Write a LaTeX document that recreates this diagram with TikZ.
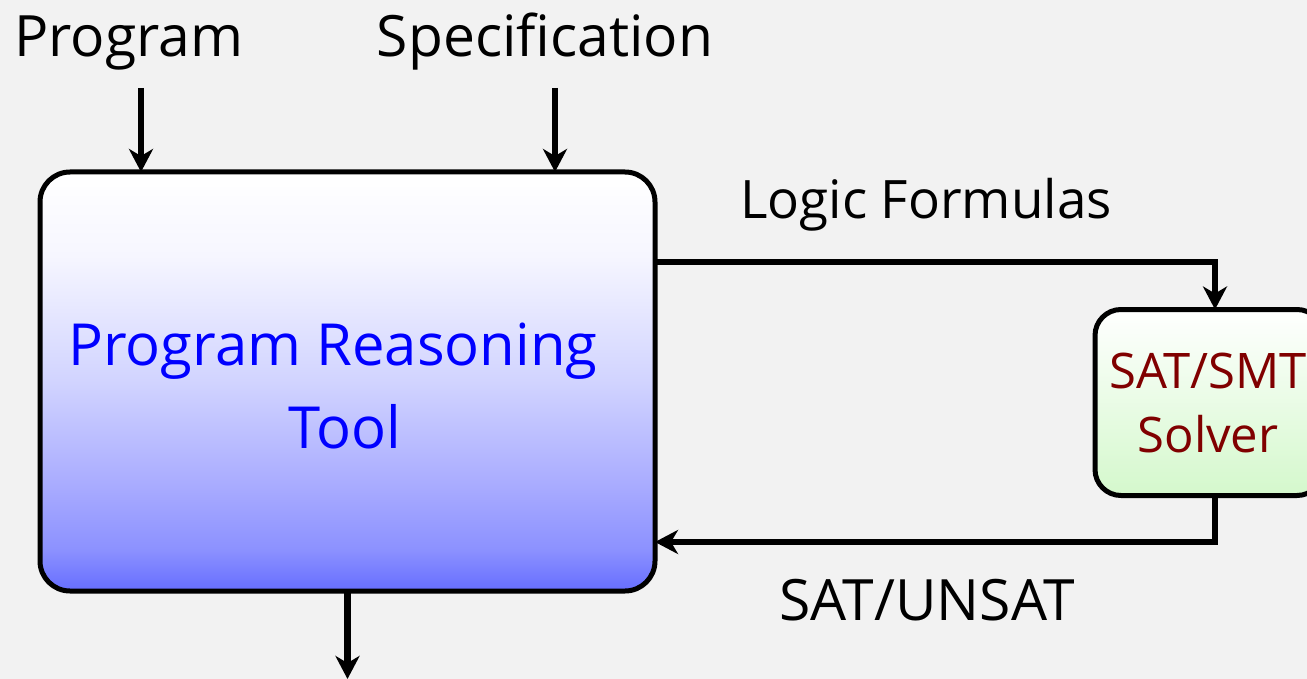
\documentclass[tikz,border=0pt]{standalone}
\usepackage{fontspec}
\setmainfont{Open Sans}
\usetikzlibrary{arrows.meta,calc}

\definecolor{bg}{HTML}{F2F2F2}
\definecolor{toolblue}{RGB}{0,0,255}
\definecolor{solverred}{RGB}{128,0,0}
\definecolor{solvergreen}{RGB}{212,248,204}

% top-to-bottom fill of the reasoning tool box (0bp = bottom)
\pgfdeclareverticalshading{toolfill}{100bp}{%
  rgb(0bp)=(0.40,0.43,1);
  rgb(25bp)=(0.40,0.43,1);
  rgb(30bp)=(0.55,0.57,1);
  rgb(37.5bp)=(0.66,0.67,1);
  rgb(50bp)=(0.82,0.83,1);
  rgb(65bp)=(0.965,0.965,1);
  rgb(75bp)=(1,1,1);
  rgb(100bp)=(1,1,1)}

\tikzset{
  box/.style={draw=black, line width=5pt, rounded corners=30pt,
    inner sep=0pt, outer sep=0pt},
  flow/.style={draw=black, line width=6.5pt,
    -{Stealth[length=23pt,width=24pt,inset=7pt]}},
  bigtext/.style={font=\fontsize{57}{68}\selectfont, inner sep=0pt, anchor=base},
  solvertext/.style={font=\fontsize{49}{60}\selectfont, inner sep=0pt,
    anchor=base, text=solverred},
}

\begin{document}
\begin{tikzpicture}[x=1pt, y=-1pt]
  \useasboundingbox (0,0) rectangle (1307,679);
  \fill[bg] (0,0) rectangle (1307,679);
  \clip (0,0) rectangle (1307,679);

  % boxes
  \node[box, shading=toolfill, minimum width=615pt, minimum height=419pt]
    (tool) at (347.5,381.5) {};
  \node[box, rounded corners=26pt, top color=white, bottom color=solvergreen,
    minimum width=228pt, minimum height=186pt]
    (solver) at (1209,402.5) {};

  % box texts
  \node[bigtext, text=toolblue, font=\fontsize{58}{68}\selectfont]
    (toolA) at (333,365) {Program Reasoning};
  \node[bigtext, text=toolblue, font=\fontsize{58}{68}\selectfont]
    (toolB) at (345,448) {Tool};
  \node[solvertext] (solA) at (1208,388) {SAT/SMT};
  \node[solvertext] (solB) at (1208,452) {Solver};

  % inputs
  \node[bigtext] (prog) at (129,57) {Program};
  \node[bigtext] (spec) at (545,57) {Specification};
  \coordinate (progIn) at (141,88);
  \coordinate (specIn) at (555,88);
  \draw[flow] (progIn) -- (progIn |- tool.north);
  \draw[flow] (specIn) -- (specIn |- tool.north);

  % tool -> solver
  \coordinate (lfRow) at (0,262);
  \draw[flow] (tool.east |- lfRow) -| ([xshift=6pt]solver.north);
  \node[bigtext, font=\fontsize{53}{64}\selectfont] (lf) at (926,219) {Logic Formulas};

  % solver -> tool
  \coordinate (resRow) at (0,542);
  \draw[flow] ([xshift=6pt]solver.south) |- (tool.east |- resRow);
  \node[bigtext] (res) at (927,620) {SAT/UNSAT};

  % output
  \coordinate (out) at (347.5,679);
  \draw[flow] (tool.south) -- (out);
\end{tikzpicture}
\end{document}
